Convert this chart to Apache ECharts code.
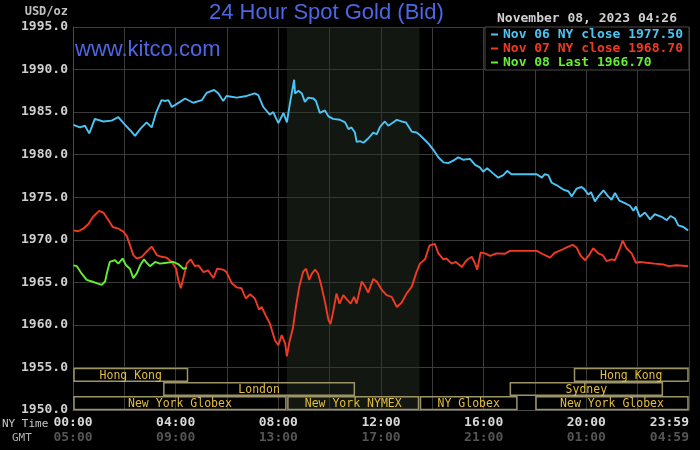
<!DOCTYPE html>
<html>
<head>
<meta charset="utf-8">
<title>24 Hour Spot Gold (Bid)</title>
<script src="https://cdn.jsdelivr.net/npm/echarts@6/dist/echarts.min.js"></script>
<style>
  html, body { margin: 0; padding: 0; background: #000; }
  #chart { width: 700px; height: 450px; }
</style>
</head>
<body>
<div id="chart"></div>
<script>
const MONO = "'DejaVu Sans Mono', monospace";
const SANS = "'Liberation Sans', Arial, sans-serif";

// [minutes after 00:00 NY time, price]
const nov06 = [
  [1, 1983.5], [16, 1983.2], [28, 1983.4], [38, 1982.5], [51, 1984.2], [71, 1983.9],
  [90, 1984.0], [106, 1984.4], [118, 1983.7], [133, 1982.9], [145, 1982.2], [157, 1983.0],
  [172, 1983.8], [184, 1983.2], [194, 1984.9], [207, 1986.4], [215, 1986.3], [223, 1986.4],
  [231, 1985.6], [250, 1986.2], [262, 1986.6], [281, 1986.1], [301, 1986.4], [313, 1987.3],
  [330, 1987.6], [340, 1987.2], [351, 1986.3], [359, 1986.9], [383, 1986.7], [406, 1986.9],
  [425, 1987.2], [433, 1987.0], [445, 1985.6], [460, 1984.7], [468, 1985.0], [480, 1983.7],
  [492, 1984.9], [500, 1983.8], [507, 1986.0], [517, 1988.8], [519, 1987.2], [527, 1987.5],
  [535, 1987.2], [542, 1986.2], [550, 1986.7], [562, 1986.6], [568, 1986.3], [577, 1984.9],
  [589, 1985.2], [597, 1984.5], [608, 1984.2], [624, 1984.1], [636, 1983.8], [644, 1983.0],
  [651, 1983.2], [659, 1982.6], [663, 1981.5], [671, 1981.6], [679, 1981.4], [690, 1981.9],
  [702, 1982.6], [710, 1982.4], [718, 1983.3], [729, 1983.9], [737, 1983.4], [749, 1983.8],
  [757, 1984.1], [768, 1983.9], [778, 1983.8], [792, 1982.7], [803, 1982.6], [811, 1982.3],
  [819, 1981.9], [831, 1981.3], [842, 1980.6], [854, 1979.7], [866, 1979.1], [877, 1979.0],
  [889, 1979.3], [901, 1979.7], [912, 1979.4], [928, 1979.5], [940, 1978.8], [951, 1978.5],
  [959, 1978.0], [968, 1978.4], [982, 1977.8], [994, 1977.3], [1006, 1977.6], [1015, 1978.1],
  [1025, 1977.7], [1084, 1977.7], [1088, 1977.9], [1096, 1977.3], [1103, 1977.7], [1111, 1977.6],
  [1119, 1976.7], [1131, 1976.4], [1146, 1975.9], [1158, 1975.7], [1166, 1975.1], [1177, 1976.0],
  [1189, 1976.2], [1194, 1976.0], [1205, 1975.3], [1211, 1975.6], [1220, 1974.5], [1228, 1975.1],
  [1240, 1975.8], [1251, 1975.1], [1259, 1974.7], [1267, 1975.5], [1277, 1974.6], [1290, 1974.3],
  [1302, 1974.0], [1310, 1973.4], [1316, 1973.9], [1325, 1972.7], [1337, 1973.2], [1349, 1972.4],
  [1360, 1973.0], [1376, 1972.7], [1388, 1972.3], [1397, 1972.8], [1407, 1972.5], [1415, 1971.7],
  [1427, 1971.5], [1438, 1971.1]
];

const nov07 = [
  [1, 1971.1], [12, 1971.0], [24, 1971.3], [36, 1971.85], [47, 1972.7], [61, 1973.4],
  [71, 1973.2], [83, 1972.3], [93, 1971.5], [106, 1971.3], [118, 1970.95], [126, 1970.4],
  [133, 1969.4], [141, 1968.2], [149, 1967.8], [161, 1968.0], [172, 1968.6], [184, 1969.2],
  [196, 1968.2], [207, 1968.0], [219, 1967.9], [231, 1967.4], [241, 1966.6], [246, 1965.3],
  [252, 1964.3], [258, 1965.5], [266, 1967.2], [275, 1967.7], [285, 1966.9], [293, 1967.0],
  [305, 1966.2], [316, 1966.4], [328, 1965.5], [337, 1966.6], [351, 1966.5], [359, 1966.2],
  [371, 1964.9], [383, 1964.4], [394, 1964.3], [404, 1963.1], [414, 1963.6], [425, 1963.1],
  [435, 1961.8], [441, 1962.1], [451, 1961.05], [460, 1960.2], [472, 1958.2], [480, 1957.6],
  [488, 1958.8], [496, 1957.8], [500, 1956.3], [506, 1958.0], [514, 1959.6], [521, 1962.1],
  [529, 1964.5], [538, 1966.25], [545, 1966.6], [552, 1965.3], [558, 1966.0], [566, 1966.5],
  [573, 1966.0], [581, 1964.5], [589, 1962.7], [597, 1960.6], [602, 1960.1], [608, 1961.5],
  [616, 1963.7], [623, 1962.5], [632, 1963.5], [640, 1963.0], [649, 1962.5], [657, 1963.3],
  [663, 1962.5], [675, 1965.1], [683, 1964.5], [690, 1963.8], [702, 1965.4], [710, 1965.1],
  [722, 1964.1], [733, 1963.5], [745, 1963.3], [757, 1962.1], [768, 1962.6], [780, 1963.7],
  [792, 1964.5], [802, 1966.05], [811, 1967.2], [823, 1967.7], [833, 1969.3], [838, 1969.4],
  [846, 1969.5], [854, 1968.4], [866, 1967.7], [873, 1967.8], [885, 1967.2], [895, 1967.4],
  [909, 1966.8], [920, 1967.6], [932, 1968.0], [940, 1967.2], [945, 1966.5], [953, 1968.5],
  [963, 1968.4], [975, 1968.1], [990, 1968.4], [1010, 1968.35], [1021, 1968.7], [1053, 1968.7],
  [1084, 1968.7], [1099, 1968.3], [1115, 1967.9], [1127, 1968.5], [1142, 1968.8], [1154, 1969.1],
  [1168, 1969.4], [1177, 1969.1], [1187, 1968.1], [1197, 1967.6], [1205, 1968.1], [1216, 1969.0],
  [1228, 1968.4], [1238, 1968.2], [1247, 1967.5], [1259, 1967.7], [1267, 1967.6], [1277, 1968.8],
  [1285, 1969.9], [1294, 1969.0], [1306, 1968.4], [1316, 1967.3], [1325, 1967.4], [1341, 1967.3],
  [1360, 1967.2], [1380, 1967.1], [1392, 1966.9], [1411, 1967.0], [1438, 1966.9]
];

const nov08 = [
  [1, 1967.0], [9, 1966.9], [20, 1966.05], [32, 1965.3], [44, 1965.1], [55, 1964.9],
  [67, 1964.7], [75, 1965.1], [80, 1966.25], [86, 1967.4], [98, 1967.6], [106, 1967.2],
  [116, 1967.8], [124, 1967.0], [133, 1966.6], [141, 1965.5], [149, 1966.05], [157, 1967.0],
  [166, 1967.7], [172, 1967.3], [180, 1966.9], [192, 1967.4], [203, 1967.2], [219, 1967.3],
  [234, 1967.4], [246, 1967.15], [258, 1966.6], [266, 1966.7]
];

const seriesNames = ['Nov 06 NY close 1977.50', 'Nov 07 NY close 1968.70', 'Nov 08 Last 1966.70'];
const seriesColors = ['#4cc4f4', '#f03a22', '#66ee33'];

const nyTimeLabels = ['00:00', '04:00', '08:00', '12:00', '16:00', '20:00', '23:59'];
const gmtTimeLabels = ['05:00', '09:00', '13:00', '17:00', '21:00', '01:00', '04:59'];

// trading sessions: name, start/end in minutes, row (0 = top)
const sessionNames = ['Hong Kong', 'London', 'New York Globex', 'New York NYMEX', 'NY Globex', 'New York Globex', 'Sydney', 'Hong Kong'];
const sessionStart = [0, 210, 0, 500, 810, 1080, 1020, 1170];
const sessionEnd = [270, 660, 500, 810, 1040, 1440, 1380, 1440];
const sessionRow = [0, 1, 2, 2, 2, 2, 1, 0];

const nymexBand = [[500, 810]];

const Y_MIN = 1950, Y_MAX = 1995, ROW_H = 5 / 3;

const chart = echarts.init(document.getElementById('chart'));

function sessionItem(params, api) {
  const row = api.value(2);
  const top = 1955 - row * ROW_H;
  const p0 = api.coord([api.value(0), top]);
  const p1 = api.coord([api.value(1), top - ROW_H]);
  const x = p0[0] + 1, y = p0[1] + 1;
  const w = p1[0] - p0[0] - 2, h = p1[1] - p0[1] - 1.5;
  return {
    type: 'group',
    children: [
      { type: 'rect', shape: { x, y, width: w, height: h },
        style: { fill: 'none', stroke: '#9c9466', lineWidth: 1.5 } },
      { type: 'text',
        style: { text: sessionNames[params.dataIndex], x: x + w / 2, y: y + h / 2 + 1,
          fill: '#e3bf3c', font: "11.5px 'DejaVu Sans Mono'",
          align: 'center', verticalAlign: 'middle' } }
    ]
  };
}

function bandItem(params, api) {
  const p0 = api.coord([api.value(0), Y_MAX]);
  const p1 = api.coord([api.value(1), Y_MIN]);
  return {
    type: 'rect',
    shape: { x: p0[0], y: p0[1], width: p1[0] - p0[0], height: p1[1] - p0[1] },
    style: { fill: 'rgba(44, 54, 44, 0.42)' }
  };
}

const lineSeries = [nov06, nov07, nov08].map((data, i) => ({
  name: seriesNames[i],
  type: 'line',
  data,
  showSymbol: false,
  z: 4,
  color: seriesColors[i],
  lineStyle: { color: seriesColors[i], width: 1.9 }
}));

chart.setOption({
  backgroundColor: '#000',
  animation: false,
  title: [
    { text: '24 Hour Spot Gold (Bid)', left: 209, top: 2, padding: 0,
      textStyle: { color: '#4d66e3', fontFamily: SANS, fontSize: 22, fontWeight: 'normal' } },
    { text: 'www.kitco.com', left: 75, top: 39, padding: 0,
      textStyle: { color: '#4d66e3', fontFamily: SANS, fontSize: 22, fontWeight: 'normal' } },
    { text: 'November 08, 2023 04:26', left: 497, top: 12, padding: 0,
      textStyle: { color: '#cfcfcf', fontFamily: MONO, fontSize: 13, fontWeight: 'bold' } }
  ],
  legend: {
    orient: 'vertical',
    right: 11,
    top: 27,
    padding: [1, 6, 1, 6],
    itemGap: 1,
    itemWidth: 7,
    itemHeight: 2,
    icon: 'rect',
    backgroundColor: '#000',
    borderColor: '#4a4a4a',
    borderWidth: 1,
    selectedMode: false,
    textStyle: { fontFamily: MONO, fontSize: 13, fontWeight: 'bold' },
    data: seriesNames.map((name, i) => ({ name, textStyle: { color: seriesColors[i] } }))
  },
  grid: { left: 73, right: 11, top: 27, bottom: 40 },
  xAxis: {
    type: 'value',
    min: 0,
    max: 1440,
    interval: 120,
    axisLine: { show: true, lineStyle: { color: '#4a4a4a' } },
    axisTick: { show: false },
    splitLine: { lineStyle: { color: '#3a3a3a' } },
    axisLabel: {
      margin: 5,
      alignMaxLabel: 'right',
      formatter: v => {
        const i = v / 240;
        if (!Number.isInteger(i)) return '';
        return '{ny|' + nyTimeLabels[i] + '}\n{gmt|' + gmtTimeLabels[i] + '}';
      },
      rich: {
        ny: { color: '#d8d8d8', fontFamily: MONO, fontSize: 13, fontWeight: 'bold', lineHeight: 15 },
        gmt: { color: '#555', fontFamily: MONO, fontSize: 13, fontWeight: 'bold', lineHeight: 15 }
      }
    }
  },
  yAxis: {
    type: 'value',
    min: Y_MIN,
    max: Y_MAX,
    interval: 5,
    name: 'USD/oz',
    nameLocation: 'end',
    nameGap: 9,
    nameTextStyle: { color: '#c0c0c0', fontFamily: MONO, fontSize: 12, fontWeight: 'bold',
      align: 'right', padding: [0, 5, 0, 0] },
    axisLine: { show: true, lineStyle: { color: '#4a4a4a' } },
    axisTick: { show: false },
    splitLine: { lineStyle: { color: '#3a3a3a' } },
    axisLabel: {
      margin: 5,
      color: '#cfcfcf',
      fontFamily: MONO,
      fontSize: 13,
      fontWeight: 'bold',
      formatter: v => v.toFixed(1)
    }
  },
  graphic: [
    { type: 'text', left: 2, top: 419,
      style: { text: 'NY Time', fill: '#c8c8c8', font: "11px 'DejaVu Sans Mono'" } },
    { type: 'text', left: 12, top: 433,
      style: { text: 'GMT', fill: '#b0b0b0', font: "11px 'DejaVu Sans Mono'" } }
  ],
  series: [
    { type: 'custom', name: 'nymex', z: 1, silent: true, renderItem: bandItem, data: nymexBand },
    { type: 'custom', name: 'sessions', z: 2, silent: true, renderItem: sessionItem,
      data: sessionNames.map((n, i) => [sessionStart[i], sessionEnd[i], sessionRow[i]]) },
    ...lineSeries
  ]
});
</script>
</body>
</html>
